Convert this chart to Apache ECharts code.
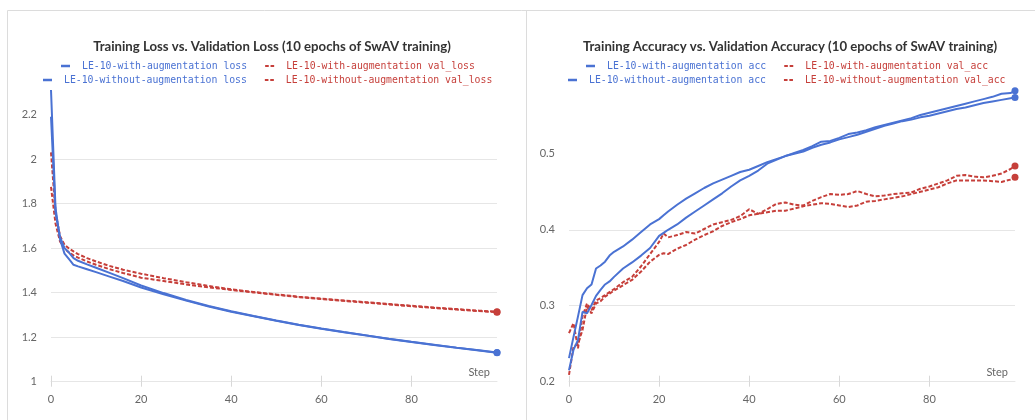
<!DOCTYPE html>
<html><head><meta charset="utf-8">
<script src="https://cdn.jsdelivr.net/npm/echarts@6/dist/echarts.min.js"></script>
<style>html,body{margin:0;padding:0;background:#fff;overflow:hidden}#c{width:1035px;height:420px}</style>
</head><body><div id="c"></div>
<script>
// ---- data ----
const lossSteps = [0,1,2,3,4,5,6,8,10,13,16,20,25,30,35,40,45,50,55,60,65,70,75,80,85,90,95,99];
const lossWithAug = [2.31,1.78,1.64,1.575,1.55,1.525,1.518,1.505,1.492,1.472,1.452,1.423,1.393,1.364,1.338,1.314,1.294,1.274,1.255,1.238,1.222,1.207,1.192,1.178,1.165,1.152,1.140,1.130];
const lossWithoutAug = [2.19,1.76,1.65,1.60,1.58,1.555,1.543,1.527,1.512,1.489,1.465,1.432,1.398,1.367,1.340,1.316,1.295,1.275,1.256,1.239,1.223,1.208,1.193,1.179,1.166,1.153,1.141,1.131];
const valLossWithAug = [2.03,1.76,1.655,1.615,1.598,1.585,1.573,1.555,1.54,1.52,1.503,1.485,1.465,1.447,1.43,1.415,1.403,1.392,1.382,1.373,1.365,1.357,1.349,1.341,1.333,1.326,1.319,1.314];
const valLossWithoutAug = [1.875,1.71,1.63,1.598,1.58,1.567,1.557,1.54,1.525,1.505,1.488,1.467,1.452,1.437,1.424,1.412,1.401,1.39,1.38,1.371,1.363,1.355,1.347,1.339,1.331,1.324,1.317,1.312];

const accSteps = [0,1,2,3,4,5,6,7,8,9,10,12,14,16,18,20,21,22,24,26,28,30,32,34,36,38,40,42,44,46,48,50,52,54,56,58,60,62,64,66,68,70,72,74,76,78,80,82,84,86,88,90,92,94,96,98,99];
const accWithAug = [0.231,0.259,0.286,0.314,0.323,0.328,0.349,0.353,0.358,0.366,0.371,
  0.378,0.387,0.397,0.407,0.414,0.419,
  0.424,0.433,0.441,0.448,0.455,0.461,0.466,0.471,0.476,0.479,
  0.484,0.489,0.493,0.497,0.501,0.505,0.510,0.516,0.517,0.521,
  0.526,0.528,0.531,0.535,0.538,0.541,0.544,0.547,0.551,0.554,
  0.557,0.560,0.563,0.566,0.569,0.572,0.575,0.579,0.580,0.583];
const accWithoutAug = [0.215,0.242,0.255,0.292,0.290,0.301,0.313,0.321,0.328,0.332,0.338,
  0.349,0.357,0.366,0.376,0.392,0.396,
  0.400,0.407,0.416,0.424,0.432,0.440,0.448,0.457,0.465,0.471,
  0.478,0.487,0.492,0.497,0.500,0.503,0.508,0.512,0.515,0.519,
  0.522,0.525,0.529,0.533,0.537,0.540,0.543,0.545,0.548,0.550,
  0.553,0.556,0.559,0.561,0.564,0.567,0.569,0.571,0.573,0.574];
const valAccWithAug = [0.264,0.277,0.244,0.286,0.303,0.294,0.307,0.310,0.314,0.318,0.322,
  0.331,0.338,0.352,0.368,0.384,0.395,
  0.390,0.393,0.397,0.395,0.401,0.407,0.410,0.413,0.418,0.427,
  0.421,0.427,0.434,0.436,0.433,0.432,0.438,0.443,0.447,0.446,
  0.447,0.451,0.447,0.444,0.445,0.447,0.448,0.449,0.454,0.457,
  0.461,0.465,0.471,0.472,0.470,0.469,0.471,0.474,0.480,0.484];
const valAccWithoutAug = [0.209,0.246,0.250,0.268,0.299,0.290,0.303,0.306,0.312,0.316,0.320,
  0.327,0.334,0.345,0.358,0.367,0.369,
  0.368,0.375,0.380,0.387,0.393,0.398,0.405,0.410,0.414,0.419,
  0.421,0.423,0.425,0.425,0.428,0.431,0.433,0.435,0.434,0.432,
  0.430,0.432,0.437,0.438,0.440,0.442,0.444,0.447,0.450,0.453,
  0.456,0.461,0.465,0.465,0.465,0.465,0.464,0.463,0.466,0.469];

const stepTicks = [0,20,40,60,80];
const lossTicks = [1,1.2,1.4,1.6,1.8,2,2.2];
const accTicks = [0.2,0.3,0.4,0.5];

const titles = ['Training Loss vs. Validation Loss (10 epochs of SwAV training)',
                'Training Accuracy vs. Validation Accuracy (10 epochs of SwAV training)'];
const names = {
  loss: ['LE-10-with-augmentation loss','LE-10-without-augmentation loss','LE-10-with-augmentation val_loss','LE-10-without-augmentation val_loss'],
  acc: ['LE-10-with-augmentation acc','LE-10-without-augmentation acc','LE-10-with-augmentation val_acc','LE-10-without-augmentation val_acc']
};

// ---- styling ----
const BLUE = '#4a72d3';
const RED = '#c63f3a';
const GRID_C = '#e6e6e6';
const LABEL_C = '#666';
const FONT = 'Lato, "Noto Sans", sans-serif';
const MONO = '"DejaVu Sans Mono", "Liberation Mono", monospace';
const DASH_ICON = 'path://M0,0h3.6v2h-3.6zM5.4,0h3.6v2h-3.6z';

function pairs(xs, ys) { return xs.map((x, i) => [x, ys[i]]); }

function line(name, xs, ys, xi, yi, color, dashed) {
  const n = xs.length;
  return {
    type: 'line', name, xAxisIndex: xi, yAxisIndex: yi,
    data: pairs(xs, ys),
    symbol: 'circle', showSymbol: true, showAllSymbol: true,
    symbolSize: (v, p) => (p.dataIndex === n - 1 ? 7 : 0),
    itemStyle: { color },
    lineStyle: { color, width: 2, type: dashed ? [4, 2] : 'solid' },
    silent: true, animation: false, z: dashed ? 3 : 4,
    emphasis: { disabled: true }
  };
}

function legendRow(left, top, blueName, redName) {
  return {
    left, top, padding: 0, orient: 'horizontal', itemGap: 18,
    itemWidth: 9, itemHeight: 2.5, selectedMode: false,
    textStyle: { fontFamily: MONO, fontSize: 9.8, padding: [0, 0, 0, 7] },
    data: [
      { name: blueName, icon: 'rect', textStyle: { color: BLUE } },
      { name: redName, icon: DASH_ICON, textStyle: { color: RED } }
    ]
  };
}

function mainX(grid) {
  return {
    type: 'value', gridIndex: grid, min: 0, max: 99, position: 'bottom',
    name: 'Step', nameLocation: 'end', nameGap: -7,
    nameTextStyle: { fontFamily: FONT, fontSize: 11, color: LABEL_C, align: 'right', verticalAlign: 'bottom', padding: [0, 0, 4, 0] },
    axisLine: { show: true, lineStyle: { color: GRID_C, width: 1 } },
    axisTick: { show: true, inside: false, length: 5, lineStyle: { color: '#d8d8d8' }, customValues: stepTicks },
    axisLabel: { customValues: stepTicks, margin: 12, fontFamily: FONT, fontSize: 11, color: LABEL_C },
    splitLine: { show: false }
  };
}
function tickX(grid) {
  return {
    type: 'value', gridIndex: grid, min: 0, max: 99, position: 'bottom',
    axisLine: { show: false },
    axisTick: { show: true, inside: true, length: 6, lineStyle: { color: '#d8d8d8' }, customValues: stepTicks },
    axisLabel: { show: false },
    splitLine: { show: false }
  };
}
function yAx(grid, min, max, ticks) {
  return {
    type: 'value', gridIndex: grid, min, max,
    axisLine: { show: false },
    axisTick: { show: false, customValues: ticks },
    axisLabel: { customValues: ticks, margin: 14, fontFamily: FONT, fontSize: 11, color: LABEL_C },
    splitLine: { show: true, showMinLine: false, showMaxLine: false, lineStyle: { color: GRID_C, width: 1 } }
  };
}

const frame = { stroke: '#dcdcdc', lineWidth: 1 };
const titleStyle = { fontFamily: FONT, fontWeight: 'bold', fontSize: 13.2, color: '#333' };

const option = {
  backgroundColor: '#fff',
  animation: false,
  title: [
    { text: titles[0], left: 267, top: 35, textAlign: 'center', textStyle: titleStyle },
    { text: titles[1], left: 785, top: 35, textAlign: 'center', textStyle: titleStyle }
  ],
  legend: [
    legendRow(61, 61, names.loss[0], names.loss[2]),
    legendRow(43, 75, names.loss[1], names.loss[3]),
    legendRow(586, 61, names.acc[0], names.acc[2]),
    legendRow(568, 75, names.acc[1], names.acc[3])
  ],
  grid: [
    { left: 51, top: 90, width: 446, height: 291.7, outerBoundsMode: 'none' },
    { left: 569, top: 90, width: 446, height: 291.7, outerBoundsMode: 'none' }
  ],
  xAxis: [mainX(0), tickX(0), mainX(1), tickX(1)],
  yAxis: [yAx(0, 1, 2.31, lossTicks), yAx(1, 0.2, 0.584, accTicks)],
  series: [
    line(names.loss[2], lossSteps, valLossWithAug, 0, 0, RED, true),
    line(names.loss[3], lossSteps, valLossWithoutAug, 0, 0, RED, true),
    line(names.loss[0], lossSteps, lossWithAug, 0, 0, BLUE, false),
    line(names.loss[1], lossSteps, lossWithoutAug, 0, 0, BLUE, false),
    line(names.acc[2], accSteps, valAccWithAug, 2, 1, RED, true),
    line(names.acc[3], accSteps, valAccWithoutAug, 2, 1, RED, true),
    line(names.acc[0], accSteps, accWithAug, 2, 1, BLUE, false),
    line(names.acc[1], accSteps, accWithoutAug, 2, 1, BLUE, false)
  ],
  graphic: [
    { type: 'line', silent: true, shape: { x1: 7.5, y1: 10.5, x2: 1035, y2: 10.5 }, style: frame },
    { type: 'line', silent: true, shape: { x1: 7.5, y1: 10.5, x2: 7.5, y2: 420 }, style: frame },
    { type: 'line', silent: true, shape: { x1: 526.5, y1: 10.5, x2: 526.5, y2: 420 }, style: frame }
  ]
};

const chart = echarts.init(document.getElementById('c'), null, { renderer: 'canvas' });
chart.setOption(option);
</script>
</body></html>
